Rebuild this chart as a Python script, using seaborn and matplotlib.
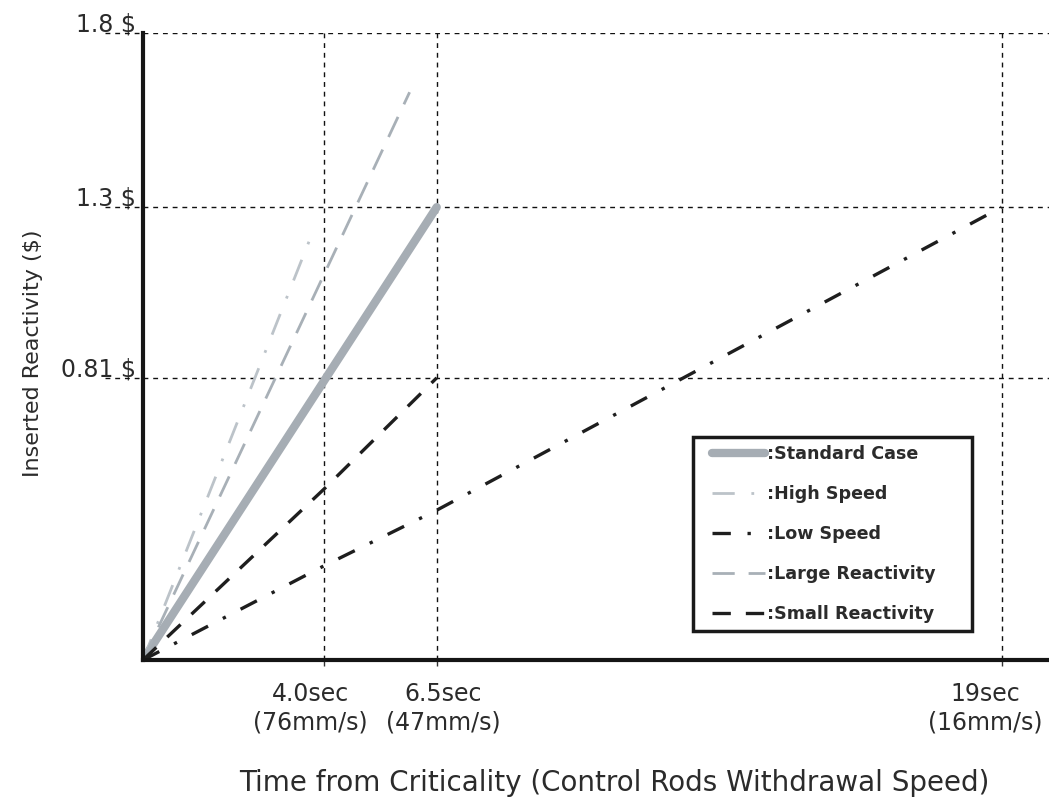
import matplotlib
matplotlib.use("Agg")
import matplotlib.pyplot as plt
from matplotlib.transforms import ScaledTranslation
from matplotlib.lines import Line2D
from matplotlib.legend_handler import HandlerLine2D
import seaborn as sns
import pandas as pd

# Series: time from criticality (s) and inserted reactivity ($)
standard_t = [0.0, 4.0, 6.5]
standard_r = [0.0, 0.80, 1.30]

high_speed_t = [0.0, 3.7]
high_speed_r = [0.0, 1.21]

low_speed_t = [0.0, 4.0, 6.5, 19.0]
low_speed_r = [0.0, 0.27, 0.43, 1.30]

large_react_t = [0.0, 5.9]
large_react_r = [0.0, 1.63]

small_react_t = [0.0, 4.0, 6.5]
small_react_r = [0.0, 0.49, 0.81]

series_names = ["Standard Case", "High Speed", "Low Speed",
                "Large Reactivity", "Small Reactivity"]

x_ticks = [4.0, 6.5, 19.0]
x_tick_labels = ["4.0sec\n(76mm/s)", "6.5sec\n(47mm/s)", "19sec\n(16mm/s)"]
y_ticks = [0.81, 1.3, 1.8]
y_tick_labels = ["0.81 $", "1.3 $", "1.8 $"]

sns.set_theme(style="white")
plt.rcParams["font.family"] = ["DejaVu Sans"]
text_color = "#2b2b2b"

fig = plt.figure(figsize=(10.49, 8.01), dpi=100)
ax = fig.add_axes([143 / 1049, 141 / 801, 906 / 1049, 627 / 801])

styles = {
    "Standard Case": dict(color="#a6adb4", lw=6.0, ls="-"),
    "High Speed": dict(color="#bcc3c9", lw=2.0, ls=(0, (8, 6, 1, 6))),
    "Low Speed": dict(color="#1e1e1e", lw=2.4, ls=(0, (5.5, 5, 1, 5))),
    "Large Reactivity": dict(color="#a8b0b7", lw=2.0, ls=(0, (8, 5))),
    "Small Reactivity": dict(color="#1e1e1e", lw=2.4, ls=(0, (5.5, 4.5))),
}
data = {
    "Standard Case": (standard_t, standard_r),
    "High Speed": (high_speed_t, high_speed_r),
    "Low Speed": (low_speed_t, low_speed_r),
    "Large Reactivity": (large_react_t, large_react_r),
    "Small Reactivity": (small_react_t, small_react_r),
}

for name in series_names:
    t, r = data[name]
    df = pd.DataFrame({"t": t, "r": r})
    st = styles[name]
    sns.lineplot(data=df, x="t", y="r", ax=ax, color=st["color"],
                 linewidth=st["lw"], linestyle=st["ls"], label=":" + name,
                 zorder=3)

ax.set_xlim(0, 20.05)
ax.set_ylim(0, 1.8)

# dashed reference lines
grid_kw = dict(color="#111111", lw=1.0, ls=(0, (3.5, 3.5)), zorder=1)
for yv in y_ticks:
    ax.axhline(yv, **grid_kw)
for xv in x_ticks:
    ax.axvline(xv, **grid_kw)
# short dashed leaders left of the axis, under the tick labels
ax.hlines(y_ticks, -0.042, 0, transform=ax.get_yaxis_transform(),
          clip_on=False, **grid_kw)

for side in ["top", "right"]:
    ax.spines[side].set_visible(False)
for side in ["left", "bottom"]:
    ax.spines[side].set_color("#151515")
    ax.spines[side].set_linewidth(3.0)
    ax.spines[side].set_zorder(4)

ax.set_xticks(x_ticks, x_tick_labels)
ax.set_yticks(y_ticks, y_tick_labels)
ax.tick_params(axis="x", length=4, width=1, color="#333333", pad=12,
               labelsize=17, labelcolor=text_color, bottom=True)
ax.tick_params(axis="y", length=0, pad=5, labelsize=17,
               labelcolor=text_color, left=True)

# horizontal nudges (in points) so the time labels sit as in the layout
x_label_shift = [-9.5, 4.5, -12.0]
for lbl, dx in zip(ax.get_xticklabels(), x_label_shift):
    lbl.set_linespacing(1.25)
    lbl.set_transform(lbl.get_transform()
                      + ScaledTranslation(dx / 72, 0, fig.dpi_scale_trans))
for lbl in ax.get_yticklabels():
    lbl.set_verticalalignment("bottom")
    lbl.set_transform(lbl.get_transform()
                      + ScaledTranslation(0, -2.5 / 72, fig.dpi_scale_trans))

ax.set_xlabel("Time from Criticality (Control Rods Withdrawal Speed)",
              fontsize=20, color=text_color)
ax.set_ylabel("Inserted Reactivity ($)", fontsize=16, color=text_color)
ax.xaxis.set_label_coords(0.52, -0.174)
ax.yaxis.set_label_coords(-0.11, 0.49)

leg = ax.legend(loc="upper left", bbox_to_anchor=(0.607, 0.0475, 0.3079, 0.308),
                mode="expand", frameon=True, fancybox=False, shadow=False,
                handlelength=3.66, handletextpad=0.12, labelspacing=1.26,
                borderpad=0.45, borderaxespad=0,
                handler_map={Line2D: HandlerLine2D(xpad=0.63)},
                prop=dict(family="DejaVu Sans", weight="bold", size=12.6))
leg.get_frame().set_edgecolor("#1a1a1a")
leg.get_frame().set_linewidth(2.5)
leg.get_frame().set_facecolor("white")
leg.get_frame().set_alpha(1)
leg.set_zorder(5)
for txt in leg.get_texts():
    txt.set_color(text_color)

fig.savefig("out.png", dpi=100)
